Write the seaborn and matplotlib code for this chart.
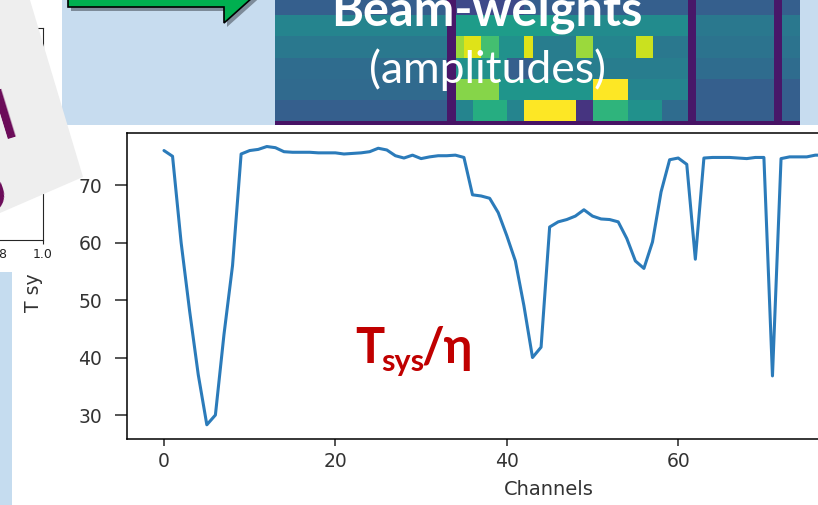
import matplotlib
matplotlib.use("Agg")
import matplotlib.pyplot as plt
import numpy as np
import pandas as pd
import seaborn as sns
from matplotlib.patches import Polygon, Rectangle

# ---------------- data ----------------
channels = list(range(78))
tsys_eta = [76.0, 75.0, 60.0, 48.0, 37.0, 28.3, 30.0, 44.0, 56.0, 75.4,
            76.0, 76.2, 76.7, 76.5, 75.8, 75.7, 75.7, 75.7, 75.6, 75.6,
            75.6, 75.4, 75.5, 75.6, 75.8, 76.4, 76.1, 75.1, 74.7, 75.2,
            74.6, 74.9, 75.1, 75.1, 75.2, 74.8, 68.3, 68.1, 67.7, 65.2,
            61.2, 56.8, 49.0, 40.0, 41.8, 62.7, 63.6, 64.0, 64.6, 65.7,
            64.6, 64.1, 64.0, 63.6, 60.7, 56.8, 55.5, 60.1, 68.8, 74.4,
            74.7, 73.6, 57.1, 74.7, 74.8, 74.8, 74.8, 74.7, 74.6, 74.8,
            74.8, 36.8, 74.6, 74.9, 74.9, 74.9, 75.2, 75.2]
x_ticks = [0, 20, 40, 60]
y_ticks = [30, 40, 50, 60, 70]
x_label = "Channels"
y_label = "T sy"

# beam-weight heatmap (rows of (value, run-length))
bw_row0 = [(0.30, 20), (0.06, 1), (0.22, 8), (0.30, 19), (0.06, 1), (0.30, 9), (0.06, 1), (0.30, 2)]
bw_row1 = [(0.45, 20), (0.06, 1), (0.55, 12), (0.48, 15), (0.06, 1), (0.40, 9), (0.06, 1), (0.40, 2)]
bw_row2 = [(0.40, 20), (0.06, 1), (0.85, 1), (0.95, 2), (0.70, 2), (0.50, 3), (0.95, 1), (0.42, 5),
           (0.85, 2), (0.45, 5), (0.92, 2), (0.40, 4), (0.06, 1), (0.38, 9), (0.06, 1), (0.38, 2)]
bw_row3 = [(0.35, 20), (0.06, 1), (0.50, 6), (0.30, 3), (0.42, 18), (0.06, 1), (0.35, 9), (0.06, 1), (0.35, 2)]
bw_row4 = [(0.34, 20), (0.06, 1), (0.82, 5), (0.52, 11), (1.00, 4), (0.45, 7), (0.06, 1), (0.30, 9), (0.06, 1), (0.30, 2)]
bw_row5 = [(0.30, 20), (0.06, 1), (0.45, 2), (0.62, 4), (0.45, 2), (1.00, 6), (0.15, 2), (0.65, 4),
           (0.50, 4), (0.35, 3), (0.06, 1), (0.30, 9), (0.06, 1), (0.30, 2)]
bw_row6 = [(0.05, 61)]
bw_rows = [bw_row0, bw_row1, bw_row2, bw_row3, bw_row4, bw_row5, bw_row6]

small_ticks = [0.8, 1.0]

# ---------------- figure ----------------
sns.set_style("ticks")
plt.rcParams["font.family"] = ["DejaVu Sans"]

W, H = 818, 505
fig = plt.figure(figsize=(W / 100, H / 100), dpi=100)
fig.patch.set_facecolor("white")


def box(x0, y0, x1, y1):
    return [x0 / W, 1 - y1 / H, (x1 - x0) / W, (y1 - y0) / H]


def pts(p):
    return [(a / W, 1 - b / H) for a, b in p]


# light-blue slide band at the top and panel at the left
fig.add_artist(Rectangle((62 / W, 1 - 125 / H), (W - 62) / W, 125 / H,
                         transform=fig.transFigure, facecolor="#C7DCEF",
                         edgecolor="none", zorder=-2))
fig.add_artist(Rectangle((0, 0), 12 / W, (H - 272) / H,
                         transform=fig.transFigure, facecolor="#C5DCEF",
                         edgecolor="none", zorder=-2))

# heatmap of beam weights
bw = np.array([[v for v, n in row for _ in range(n)] for row in bw_rows])
hax = fig.add_axes(box(275, 0, 275 + 61 * 8.6, 125))
sns.heatmap(bw, ax=hax, cmap="viridis", vmin=0, vmax=1, cbar=False,
            xticklabels=False, yticklabels=False)
hax.set_xlim(0, bw.shape[1])
hax.set_ylim(6.165, 0.296)
hax.set_axis_off()

# small chart hidden behind the grey card
sax = fig.add_axes(box(-187, 28, 43, 240))
sax.set_xlim(0, 1)
sax.set_xticks(small_ticks)
sax.set_xticklabels([f"{t:.1f}" for t in small_ticks])
sax.set_yticks([])
sax.tick_params(axis="x", labelsize=9, length=3, width=0.8, pad=3, colors="#222222")
for s in sax.spines.values():
    s.set_linewidth(0.8)

# main chart
ax = fig.add_axes(box(126.7, 133.3, 971.3, 439))
df = pd.DataFrame({"channel": channels, "tsys": tsys_eta})
sns.lineplot(data=df, x="channel", y="tsys", ax=ax, color="#2b7bba", linewidth=2.2)
ax.set_xlim(-4.35, 94.2)
ax.set_ylim(25.83, 79.0)
ax.set_xticks(x_ticks)
ax.set_yticks(y_ticks)
ax.tick_params(axis="x", length=5, width=1.1, pad=4.5, labelsize=13.5, labelcolor="#333333")
ax.tick_params(axis="y", length=8.5, width=1.1, pad=9.0, labelsize=13.5, labelcolor="#333333")
for s in ax.spines.values():
    s.set_linewidth(1.1)
    s.set_color("black")
ax.set_xlabel(x_label, fontsize=14, color="#333333", labelpad=6)
ax.set_ylabel(y_label, fontsize=13.5, color="#333333")
ax.yaxis.set_label_coords((43 - 126.7) / (971.3 - 126.7), (439 - 293) / (439 - 133.3))

# grey tilted card with purple title fragments
card = Polygon(pts([(-40, -40), (18, -40), (83, 177), (0, 213), (-40, 231)]),
               closed=True, transform=fig.transFigure, facecolor="#EEEEEE",
               edgecolor="none", zorder=1)
fig.add_artist(card)
fig.text(6 / W, 1 - 118 / H, "l", fontsize=48, fontweight="bold", color="#6A0A58",
         family=["Lato", "DejaVu Sans"], rotation=17, ha="center", va="center", zorder=2)
fig.text(-17 / W, 1 - 192 / H, "o", fontsize=56, fontweight="bold", color="#6A0A58",
         family=["Lato", "DejaVu Sans"], rotation=17, ha="center", va="center", zorder=2)

# green arrow with shadow
arrow_pts = [(68, -40), (68, 7), (224, 7), (224, 23), (262, -11), (224, -45)]
shadow = Polygon(pts([(a + 3, b + 4) for a, b in arrow_pts]), closed=True,
                 transform=fig.transFigure, facecolor="#7D8B99", edgecolor="none", zorder=1.5)
arrow = Polygon(pts(arrow_pts), closed=True, transform=fig.transFigure,
                facecolor="#00B050", edgecolor="black", linewidth=1.2, zorder=1.6)
fig.add_artist(shadow)
fig.add_artist(arrow)

# slide texts
fig.text(487 / W, 1 - 25 / H, "Beam-weights", fontsize=35, fontweight="bold", color="white",
         family=["Lato", "DejaVu Sans"], ha="center", va="baseline", zorder=3)
fig.text(487 / W, 1 - 83 / H, "(amplitudes)", fontsize=32, color="white",
         family=["Lato", "DejaVu Sans"], ha="center", va="baseline", zorder=3)

red = "#C00000"
fig.text(355 / W, 1 - 363 / H, "T", fontsize=35, fontweight="bold", color=red,
         family=["Lato", "DejaVu Sans"], ha="left", va="baseline", zorder=3)
fig.text(381 / W, 1 - 371 / H, "sys", fontsize=22, fontweight="bold", color=red,
         family=["Lato", "DejaVu Sans"], ha="left", va="baseline", zorder=3)
fig.text(422 / W, 1 - 363 / H, "/η", fontsize=35, fontweight="bold", color=red,
         family=["Lato", "DejaVu Sans"], ha="left", va="baseline", zorder=3)

fig.savefig("out.png", dpi=100, facecolor="white")
